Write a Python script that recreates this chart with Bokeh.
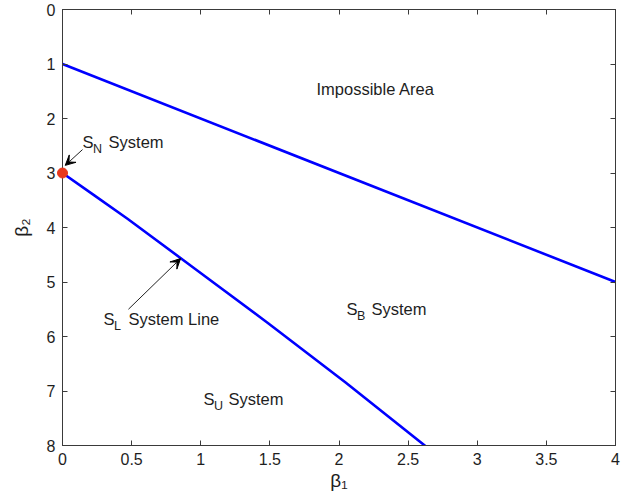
from bokeh.plotting import figure
from bokeh.models import Range1d, FixedTicker, LinearAxis, Arrow, VeeHead
from bokeh.core.properties import value
from bokeh.embed import file_html
from bokeh.resources import INLINE

# ---- data ----
beta1_upper = [0.0, 4.0]
beta2_upper = [1.0, 5.0]

beta1_lognormal = [0.0, 0.23, 0.47, 0.96, 1.49, 2.05, 2.64]
beta2_lognormal = [3.0, 3.41, 3.84, 4.76, 5.76, 6.85, 8.04]

normal_beta1 = [0.0]
normal_beta2 = [3.0]

x_ticks = [0, 0.5, 1, 1.5, 2, 2.5, 3, 3.5, 4]
x_tick_labels = ["0", "0.5", "1", "1.5", "2", "2.5", "3", "3.5", "4"]
y_ticks = [0, 1, 2, 3, 4, 5, 6, 7, 8]
y_tick_labels = ["0", "1", "2", "3", "4", "5", "6", "7", "8"]

region_names = ["S", "S", "S", "S"]
region_subs = ["N", "L", "B", "U"]
region_rest = ["System", "System Line", "System", "System"]

FONT = "Liberation Sans"
TXT = "#1e1e1e"
AX = "#3a3a3a"

p = figure(width=627, height=494,
           x_range=Range1d(0, 4), y_range=Range1d(8, 0),
           output_backend="svg", toolbar_location=None,
           min_border_left=62, min_border_right=12,
           min_border_top=9, min_border_bottom=49,
           background_fill_color="white", border_fill_color="white")
p.xgrid.visible = False
p.ygrid.visible = False
p.outline_line_color = AX

def style_axis(ax, ticks, labels, show_labels=True):
    ax.ticker = FixedTicker(ticks=ticks)
    ax.major_tick_in = 5
    ax.major_tick_out = 0
    ax.minor_tick_in = 0
    ax.minor_tick_out = 0
    ax.axis_line_color = AX
    ax.major_tick_line_color = AX
    if show_labels:
        ax.major_label_overrides = {t: l for t, l in zip(ticks, labels)}
        ax.major_label_text_font = FONT
        ax.major_label_text_font_size = "16px"
        ax.major_label_text_color = TXT
        ax.major_label_standoff = 7
    else:
        ax.major_label_text_color = None
        ax.major_label_text_font_size = "1px"
        ax.major_label_standoff = 0
    ax.axis_label_text_font = FONT
    ax.axis_label_text_font_size = "19px"
    ax.axis_label_text_font_style = "normal"
    ax.axis_label_text_color = TXT

style_axis(p.xaxis[0], x_ticks, x_tick_labels)
style_axis(p.yaxis[0], y_ticks, y_tick_labels)
p.xaxis[0].axis_label = "β₁"
p.xaxis[0].axis_label_standoff = 2
p.yaxis[0].axis_label = "β₂"
p.yaxis[0].axis_label_standoff = 12

top_ax = LinearAxis()
style_axis(top_ax, x_ticks, x_tick_labels, show_labels=False)
p.add_layout(top_ax, "above")
right_ax = LinearAxis()
style_axis(right_ax, y_ticks, y_tick_labels, show_labels=False)
p.add_layout(right_ax, "right")

# ---- lines ----
p.line(beta1_upper, beta2_upper, line_color="#0000ff", line_width=2.6)
p.line(beta1_lognormal, beta2_lognormal, line_color="#0000ff", line_width=2.6)

# ---- normal point ----
p.scatter(normal_beta1, normal_beta2, size=10, marker="circle",
          fill_color="#e8381d", line_color="#e8381d", level="overlay")

# ---- texts ----
p.text(x=[1.837], y=[1.45], text=["Impossible Area"], text_font=value(FONT),
       text_font_size="16.5px", text_color=TXT, text_align="left", text_baseline="middle")

sx = [0.145, 0.297, 2.054, 1.02]
sy = [2.44, 5.67, 5.50, 7.14]
rx = [0.333, 0.477, 2.235, 1.20]
p.text(x=sx, y=sy, text=region_names, text_font=value(FONT), text_font_size="16.5px",
       text_color=TXT, text_align="left", text_baseline="middle")
p.text(x=sx, y=sy, text=region_subs, text_font=value(FONT), text_font_size="12.5px",
       text_color=TXT, text_align="left", text_baseline="middle",
       x_offset=10.5, y_offset=7)
p.text(x=rx, y=sy, text=region_rest, text_font=value(FONT), text_font_size="16.5px",
       text_color=TXT, text_align="left", text_baseline="middle")

# ---- arrows ----
p.add_layout(Arrow(end=VeeHead(size=10, fill_color="black", line_color="black"),
                   x_start=0.145, y_start=2.57, x_end=0.02, y_end=2.86,
                   line_color="#222222", line_width=1))
p.add_layout(Arrow(end=VeeHead(size=10, fill_color="black", line_color="black"),
                   x_start=0.477, y_start=5.50, x_end=0.854, y_end=4.57,
                   line_color="#222222", line_width=1))

open("out.html", "w").write(file_html(p, INLINE))
